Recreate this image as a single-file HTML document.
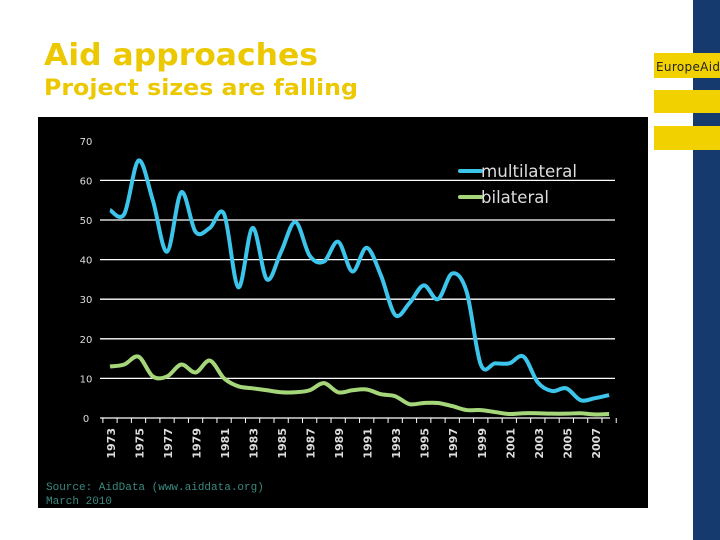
<!DOCTYPE html>
<html><head><meta charset="utf-8"><style>
html,body{margin:0;padding:0;background:#fff;width:720px;height:540px;overflow:hidden}
</style></head><body>
<svg id="s" width="720" height="540" xmlns="http://www.w3.org/2000/svg">
<rect x="693" y="0" width="27" height="540" fill="#153b6e"/>
<rect x="654" y="53" width="66" height="25" fill="#f2d100"/>
<text x="656" y="71" font-family="DejaVu Sans, sans-serif" font-size="12" fill="#222" textLength="64">EuropeAid</text>
<rect x="654" y="90" width="66" height="23" fill="#f2d100"/>
<rect x="654" y="126" width="66" height="24" fill="#f2d100"/>
<text x="44" y="65" font-family="DejaVu Sans, sans-serif" font-weight="bold" font-size="30" fill="#ecc800" textLength="274" lengthAdjust="spacingAndGlyphs">Aid approaches</text>
<text x="44" y="95" font-family="DejaVu Sans, sans-serif" font-weight="bold" font-size="22" fill="#ecc800" textLength="314" lengthAdjust="spacingAndGlyphs">Project sizes are falling</text>
<rect x="38" y="117" width="610" height="391" fill="#000"/>
<g id="chart"></g>
<text x="46" y="490" font-family="Liberation Mono, monospace" font-size="11" fill="#3a8a80">Source: AidData (www.aiddata.org)</text>
<text x="46" y="504" font-family="Liberation Mono, monospace" font-size="11" fill="#3a8a80">March 2010</text>
</svg>
<script>
const years=[1973,1974,1975,1976,1977,1978,1979,1980,1981,1982,1983,1984,1985,1986,1987,1988,1989,1990,1991,1992,1993,1994,1995,1996,1997,1998,1999,2000,2001,2002,2003,2004,2005,2006,2007,2008];
const multilateral=[52.5,51.5,65,55,42,57,47,48,51.5,33,48,35,42,49.5,41,39.5,44.5,37,43,36,26,29,33.5,30,36.5,32,13.5,13.8,13.8,15.5,9,6.8,7.5,4.5,5,5.8];
const bilateral=[13,13.5,15.5,10.5,10.5,13.5,11.5,14.5,10,8,7.5,7,6.5,6.5,7,8.8,6.5,7,7.2,6,5.5,3.5,3.8,3.8,3,2,2,1.5,1,1.2,1.2,1.1,1.1,1.2,0.9,1];
const yTicks=[0,10,20,30,40,50,60,70];
const NS="http://www.w3.org/2000/svg";
const g=document.getElementById('chart');
const X=y=>110+(y-1973)*14.26;
const Y=v=>418-v*3.96;
function el(t,a){const e=document.createElementNS(NS,t);for(const k in a)e.setAttribute(k,a[k]);g.appendChild(e);return e;}
yTicks.forEach(t=>{
  if(t>0&&t<70){const l=el('line',{x1:100,x2:615,y1:Y(t),y2:Y(t),stroke:'#fff','stroke-width':1.3});
  
  }
  const tx=el('text',{x:86,y:Y(t)+4,'font-family':'DejaVu Sans, sans-serif','font-size':10,fill:'#ddd','text-anchor':'middle'});
  tx.textContent=t;
  
  
});
const ax=el('line',{x1:100,x2:610,y1:418,y2:418,stroke:'#fff','stroke-width':1.3});


for(let y=1972;y<=2008;y++){
  const xx=X(y)+7.13;
  const tk=el('line',{x1:xx,x2:xx,y1:418,y2:423,stroke:'#fff','stroke-width':1});
  
  
}
years.forEach(y=>{ if(y%2===1){
  const t=el('text',{transform:`translate(${X(y)+5},428) rotate(-90)`,'font-family':'DejaVu Sans, sans-serif','font-weight':'bold','font-size':11,fill:'#ddd','text-anchor':'end'});
  t.textContent=y;
  
  
}});
function path(vals){
  const p=vals.map((v,i)=>[X(years[i]),Y(v)]);
  let d=`M${p[0][0]},${p[0][1]}`;
  for(let i=0;i<p.length-1;i++){
    const p0=p[Math.max(0,i-1)],p1=p[i],p2=p[i+1],p3=p[Math.min(p.length-1,i+2)];
    const c1=[p1[0]+(p2[0]-p0[0])/6,p1[1]+(p2[1]-p0[1])/6],c2=[p2[0]-(p3[0]-p1[0])/6,p2[1]-(p3[1]-p1[1])/6];
    d+=`C${c1[0]},${c1[1]} ${c2[0]},${c2[1]} ${p2[0]},${p2[1]}`;
  }
  return d;
}
const lb=el('path',{d:path(bilateral),fill:'none',stroke:'#a6d67a','stroke-width':4,'stroke-linejoin':'round'});


const lm=el('path',{d:path(multilateral),fill:'none',stroke:'#3cc4ea','stroke-width':4,'stroke-linejoin':'round'});


[['multilateral','#3cc4ea',171,96],['bilateral','#a6d67a',197,68]].forEach(([n,c,y,w])=>{
  const s=el('line',{x1:460,x2:481,y1:y,y2:y,stroke:c,'stroke-width':4,'stroke-linecap':'round'});
  
  
  const t=el('text',{x:481,y:y+6,'font-family':'DejaVu Sans, sans-serif','font-size':17,fill:'#ddd',textLength:w,lengthAdjust:'spacingAndGlyphs'});
  t.textContent=n;
  
  
});
</script>
</body></html>
